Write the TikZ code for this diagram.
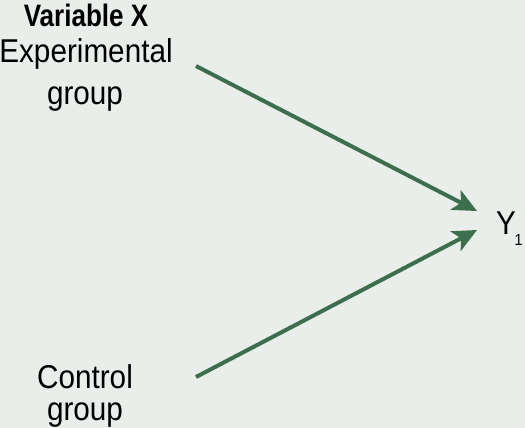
\documentclass[tikz,border=0pt]{standalone}
\usepackage{fontspec}
\setmainfont{Liberation Sans}[FakeStretch=0.9]
\newfontfamily\boldcond{Liberation Sans}[FakeStretch=0.84]
\usetikzlibrary{arrows.meta}
\definecolor{bg}{HTML}{E9EEEA}
\definecolor{arr}{HTML}{3D6F4F}
\begin{document}
\begin{tikzpicture}[x=1pt,y=1pt,
  lbl/.style={inner sep=0pt,anchor=base,font=\fontsize{33}{40}\selectfont,text=black},
  conn/.style={draw=arr,line width=4pt,-{Stealth[length=24pt,width=22pt,inset=6pt]}}]
\fill[bg] (0,0) rectangle (525,-428);
\useasboundingbox (0,0) rectangle (525,-428);
\node[lbl,font=\fontsize{31}{38}\selectfont\boldcond\bfseries] (var) at (86,-27) {Variable X};
\node[lbl] (exp1) at (86,-63) {Experimental};
\node[lbl] (exp2) at (85,-104) {group};
\node[lbl] (con1) at (85,-388) {Control};
\node[lbl] (con2) at (85,-420) {group};
\node[lbl,anchor=base west] (y) at (496,-234) {Y\kern-1.5pt\raisebox{-11pt}{\fontsize{16}{18}\selectfont 1}};
\coordinate (s1) at (196,-66);
\coordinate (s2) at (196,-377);
\coordinate (t1) at (477,-211);
\coordinate (t2) at (477,-230);
\draw[conn] (s1) -- (t1);
\draw[conn] (s2) -- (t2);
\end{tikzpicture}
\end{document}
